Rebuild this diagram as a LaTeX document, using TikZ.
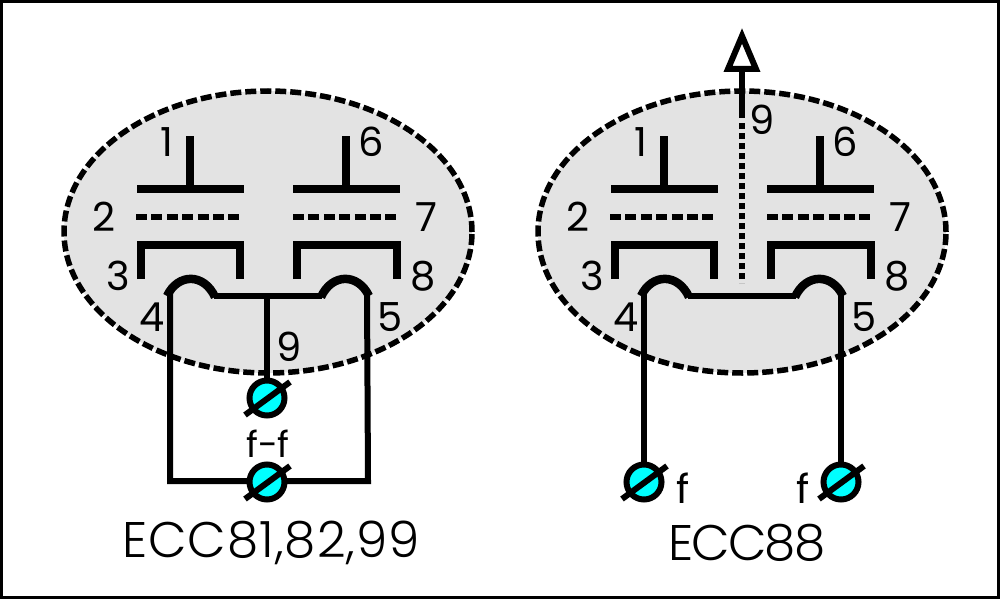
\documentclass[tikz,border=0pt]{standalone}
\usepackage{fontspec}
\setmainfont[UprightFont=* Light]{Poppins}
\newfontfamily\pinfont{Poppins}
\usetikzlibrary{calc,
                shapes.geometric}
\definecolor{termcyan}{RGB}{0,255,255}
\definecolor{bulbgrey}{RGB}{227,227,227}

\begin{document}
\begin{tikzpicture}[x=1pt,y=-1pt]
                % define styles
\tikzset{envelope/.style={ellipse, draw=black, fill=bulbgrey, line width=5.5pt, dash pattern=on 11pt off 4pt, inner sep=0},
         plate/.style={draw=black, line width=8pt},
         grid line/.style={draw=black, line width=6.5pt, dash pattern=on 11pt off 4.4pt},
         heater/.style={draw=black, line width=8.5pt},
         wire/.style={draw=black, line width=6pt},
         beam/.style={draw=black, line width=6pt, dash pattern=on 6pt off 4pt},
         terminal/.style={circle, draw=black, fill=termcyan, line width=6pt, inner sep=0, minimum size=35pt},
         slash/.style={draw=black, line width=6pt},
         pinlabel/.style={inner sep=0, font=\pinfont\fontsize{40}{40}\selectfont},
         typelabel/.style={inner sep=0, font=\fontsize{50}{50}\selectfont}
}

% border
\draw[line width=3pt, fill=white] (1.5,1.5) rectangle (998.5,597.5);
\useasboundingbox (0,0) rectangle (1000,599);

% both tubes
\foreach \side/\dx in {l/0, r/474} {
\begin{scope}[xshift=\dx pt]
    \node[envelope, minimum width=408pt, minimum height=282pt] (env\side) at (268,232) {};

    % plates
    \draw[plate] (137,189) -- (244,189);
    \draw[plate] (190,136) -- (190,189);
    \draw[plate] (293,189) -- (400,189);
    \draw[plate] (346,136) -- (346,189);

    % grids
    \draw[grid line] (136,217) -- (240,217);
    \draw[grid line] (293,217) -- (397,217);

    % cathodes
    \draw[plate] (141,279) -- (141,245) -- (240,245) -- (240,279);
    \draw[plate] (297,279) -- (297,245) -- (397,245) -- (397,279);

    % heater
    \draw[heater] (167,296) .. controls (178,273) and (204,273) .. (215,297);
    \draw[heater] (369,296) .. controls (358,273) and (332,273) .. (321,297);
    \coordinate (h1\side) at (214,296);
    \coordinate (h2\side) at (322,296);
    \coordinate (h4\side) at (170,293);
    \coordinate (h5\side) at (367,293);
    \draw[wire] (h1\side) -- (h2\side);

    % labels
    \foreach \txt/\px/\py in {1/167/142, 6/371/142, 2/104/217, 7/426/217, 3/118/276, 8/423/276, 4/152/317, 5/390/317}
        \node[pinlabel] (pin\txt\side) at (\px,\py) {\txt};
\end{scope}
}

% terminals
\foreach \name/\px/\py in {t9/267/398, tff/267/482, t4/644/482, t5/841/482}
    \coordinate (\name) at (\px,\py);

% wiring of the left tube
\coordinate (hc) at (267,296);
\coordinate (bl) at (170,481);
\coordinate (br) at (368,481);
\draw[wire] (h4l) -- (bl) -- (br) -- (h5l);
\draw[wire] (hc) -- (t9);

% wiring of the right tube
\draw[wire] (h4r) -- (t4);
\draw[wire] (h5r) -- (t5);

% terminals over the wires
\foreach \name in {t9, tff, t4, t5} {
    \node[terminal] (n\name) at (\name) {};
    \draw[slash] ($(\name)+(-22,17)$) -- ($(\name)+(23,-16)$);
}

% plate cap of the right tube
\coordinate (capbase) at (742,69);
\coordinate (stemend) at (742,118);
\coordinate (beamstart) at (742,123);
\coordinate (beamend) at (742,283);
\draw[wire] (capbase) -- (stemend);
\draw[beam] (beamstart) -- (beamend);
\draw[draw=black, fill=white, line width=6pt, miter limit=6] (728,69) -- (742,36) -- (756,69) -- cycle;

% labels
\node[pinlabel] (pin9l) at (289,347) {9};
\node[pinlabel] (pin9r) at (762,120) {9};
\node[pinlabel, font=\pinfont\fontsize{36}{36}\selectfont] (ff) at (268,444) {f-f};
\node[pinlabel] (f4) at (683,488) {f};
\node[pinlabel] (f5) at (803,488) {f};
\node[typelabel] (type1) at (271,543) {\addfontfeature{LetterSpace=2}ECC81,82,99};
\node[typelabel] (type2) at (747,543) {\addfontfeature{LetterSpace=-4}ECC88};

\end{tikzpicture}
\end{document}
